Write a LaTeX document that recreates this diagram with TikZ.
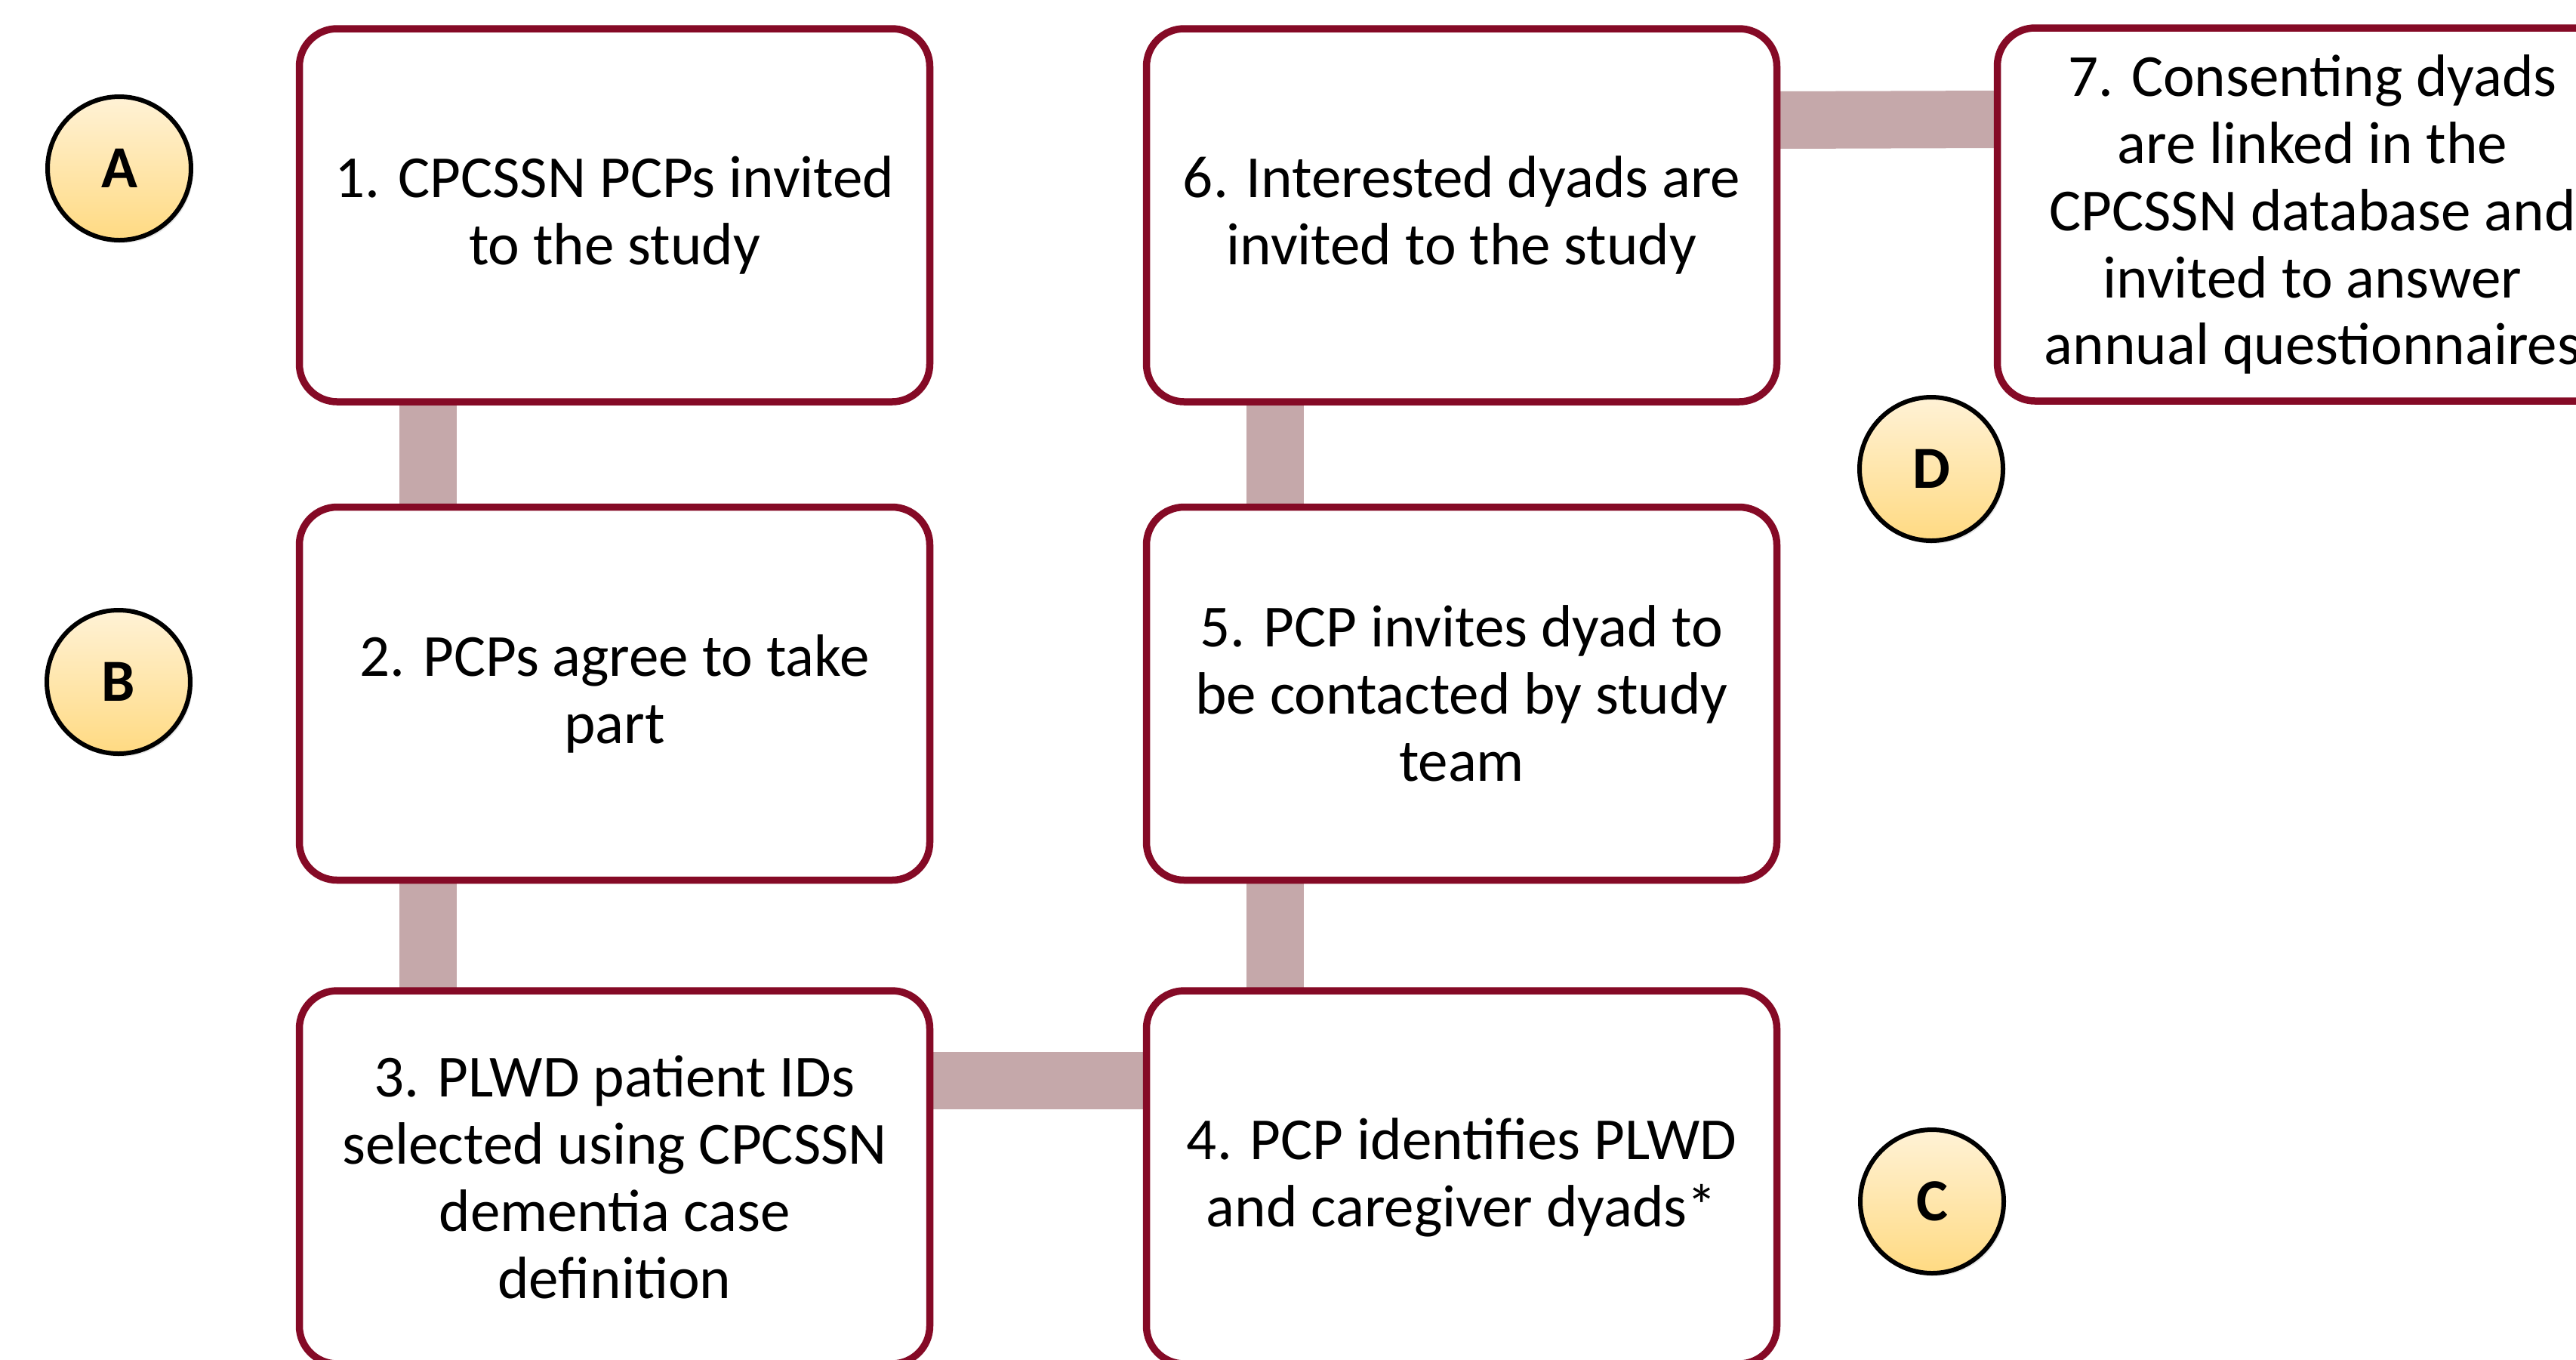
\documentclass[tikz,border=0pt]{standalone}
\usepackage{fontspec}
\setmainfont{Carlito}
\usetikzlibrary{backgrounds,shadows,calc}
\definecolor{boxred}{RGB}{133,10,38}
\definecolor{connc}{RGB}{197,168,170}
\definecolor{circtop}{RGB}{255,242,214}
\definecolor{circbot}{RGB}{255,218,130}
\tikzset{
  stepbox/.style={draw=boxred, line width=0.095cm, rounded corners=0.5cm, fill=white,
    minimum width=8.35cm, minimum height=4.94cm, align=center, inner sep=0pt, outer sep=0pt,
    font=\fontsize{22.5}{25.3}\selectfont,
    drop shadow={opacity=0.18, shadow xshift=0.03cm, shadow yshift=-0.04cm}},
  letter/.style={circle, draw=black, line width=0.06cm, top color=circtop, bottom color=circbot,
    minimum size=1.9cm, inner sep=0pt, outer sep=0pt,
    font=\fontsize{22.5}{25}\selectfont\bfseries,
    drop shadow={opacity=0.2, shadow xshift=0.03cm, shadow yshift=-0.04cm}},
  conn/.style={line width=0.76cm, color=connc}
}
\begin{document}
\begin{tikzpicture}
\useasboundingbox (0,0) rectangle (34.12,-18);
\node[stepbox] (b1) at (8.14,-2.85) {1. CPCSSN PCPs invited\\to the study};
\node[stepbox] (b2) at (8.14,-9.185) {2. PCPs agree to take\\part};
\node[stepbox] (b3) at (8.14,-15.59) {3. PLWD patient IDs\\selected using CPCSSN\\dementia case\\definition};
\node[stepbox] (b4) at (19.36,-15.59) {4. PCP identifies PLWD\\and caregiver dyads*};
\node[stepbox] (b5) at (19.36,-9.185) {5. PCP invites dyad to\\be contacted by study\\team};
\node[stepbox] (b6) at (19.36,-2.85) {6. Interested dyads are\\invited to the study};
\node[stepbox] (b7) at (30.63,-2.84) {7. Consenting dyads\\are linked in the\\CPCSSN database and\\invited to answer\\annual questionnaires};
\node[letter] (la) at (1.58,-2.23) {A};
\node[letter] (lb) at (1.57,-9.03) {B};
\node[letter] (lc) at (25.59,-15.91) {C};
\node[letter] (ld) at (25.58,-6.21) {D};
\begin{scope}[on background layer]
\fill[white] (0,0) rectangle (34.12,-18);
\draw[conn] ($(b1.south west)+(1.70,0)$) -- ($(b2.north west)+(1.70,0)$);
\draw[conn] ($(b2.south west)+(1.70,0)$) -- ($(b3.north west)+(1.70,0)$);
\draw[conn] ($(b3.north east)+(0,-1.19)$) -- ($(b4.north west)+(0,-1.19)$);
\draw[conn] ($(b4.north west)+(1.70,0)$) -- ($(b5.south west)+(1.70,0)$);
\draw[conn] ($(b5.north west)+(1.70,0)$) -- ($(b6.south west)+(1.70,0)$);
\draw[conn] ($(b6.north east)+(0,-1.21)$) -- ($(b7.north west)+(0,-1.21)$);
\end{scope}
\end{tikzpicture}
\end{document}
